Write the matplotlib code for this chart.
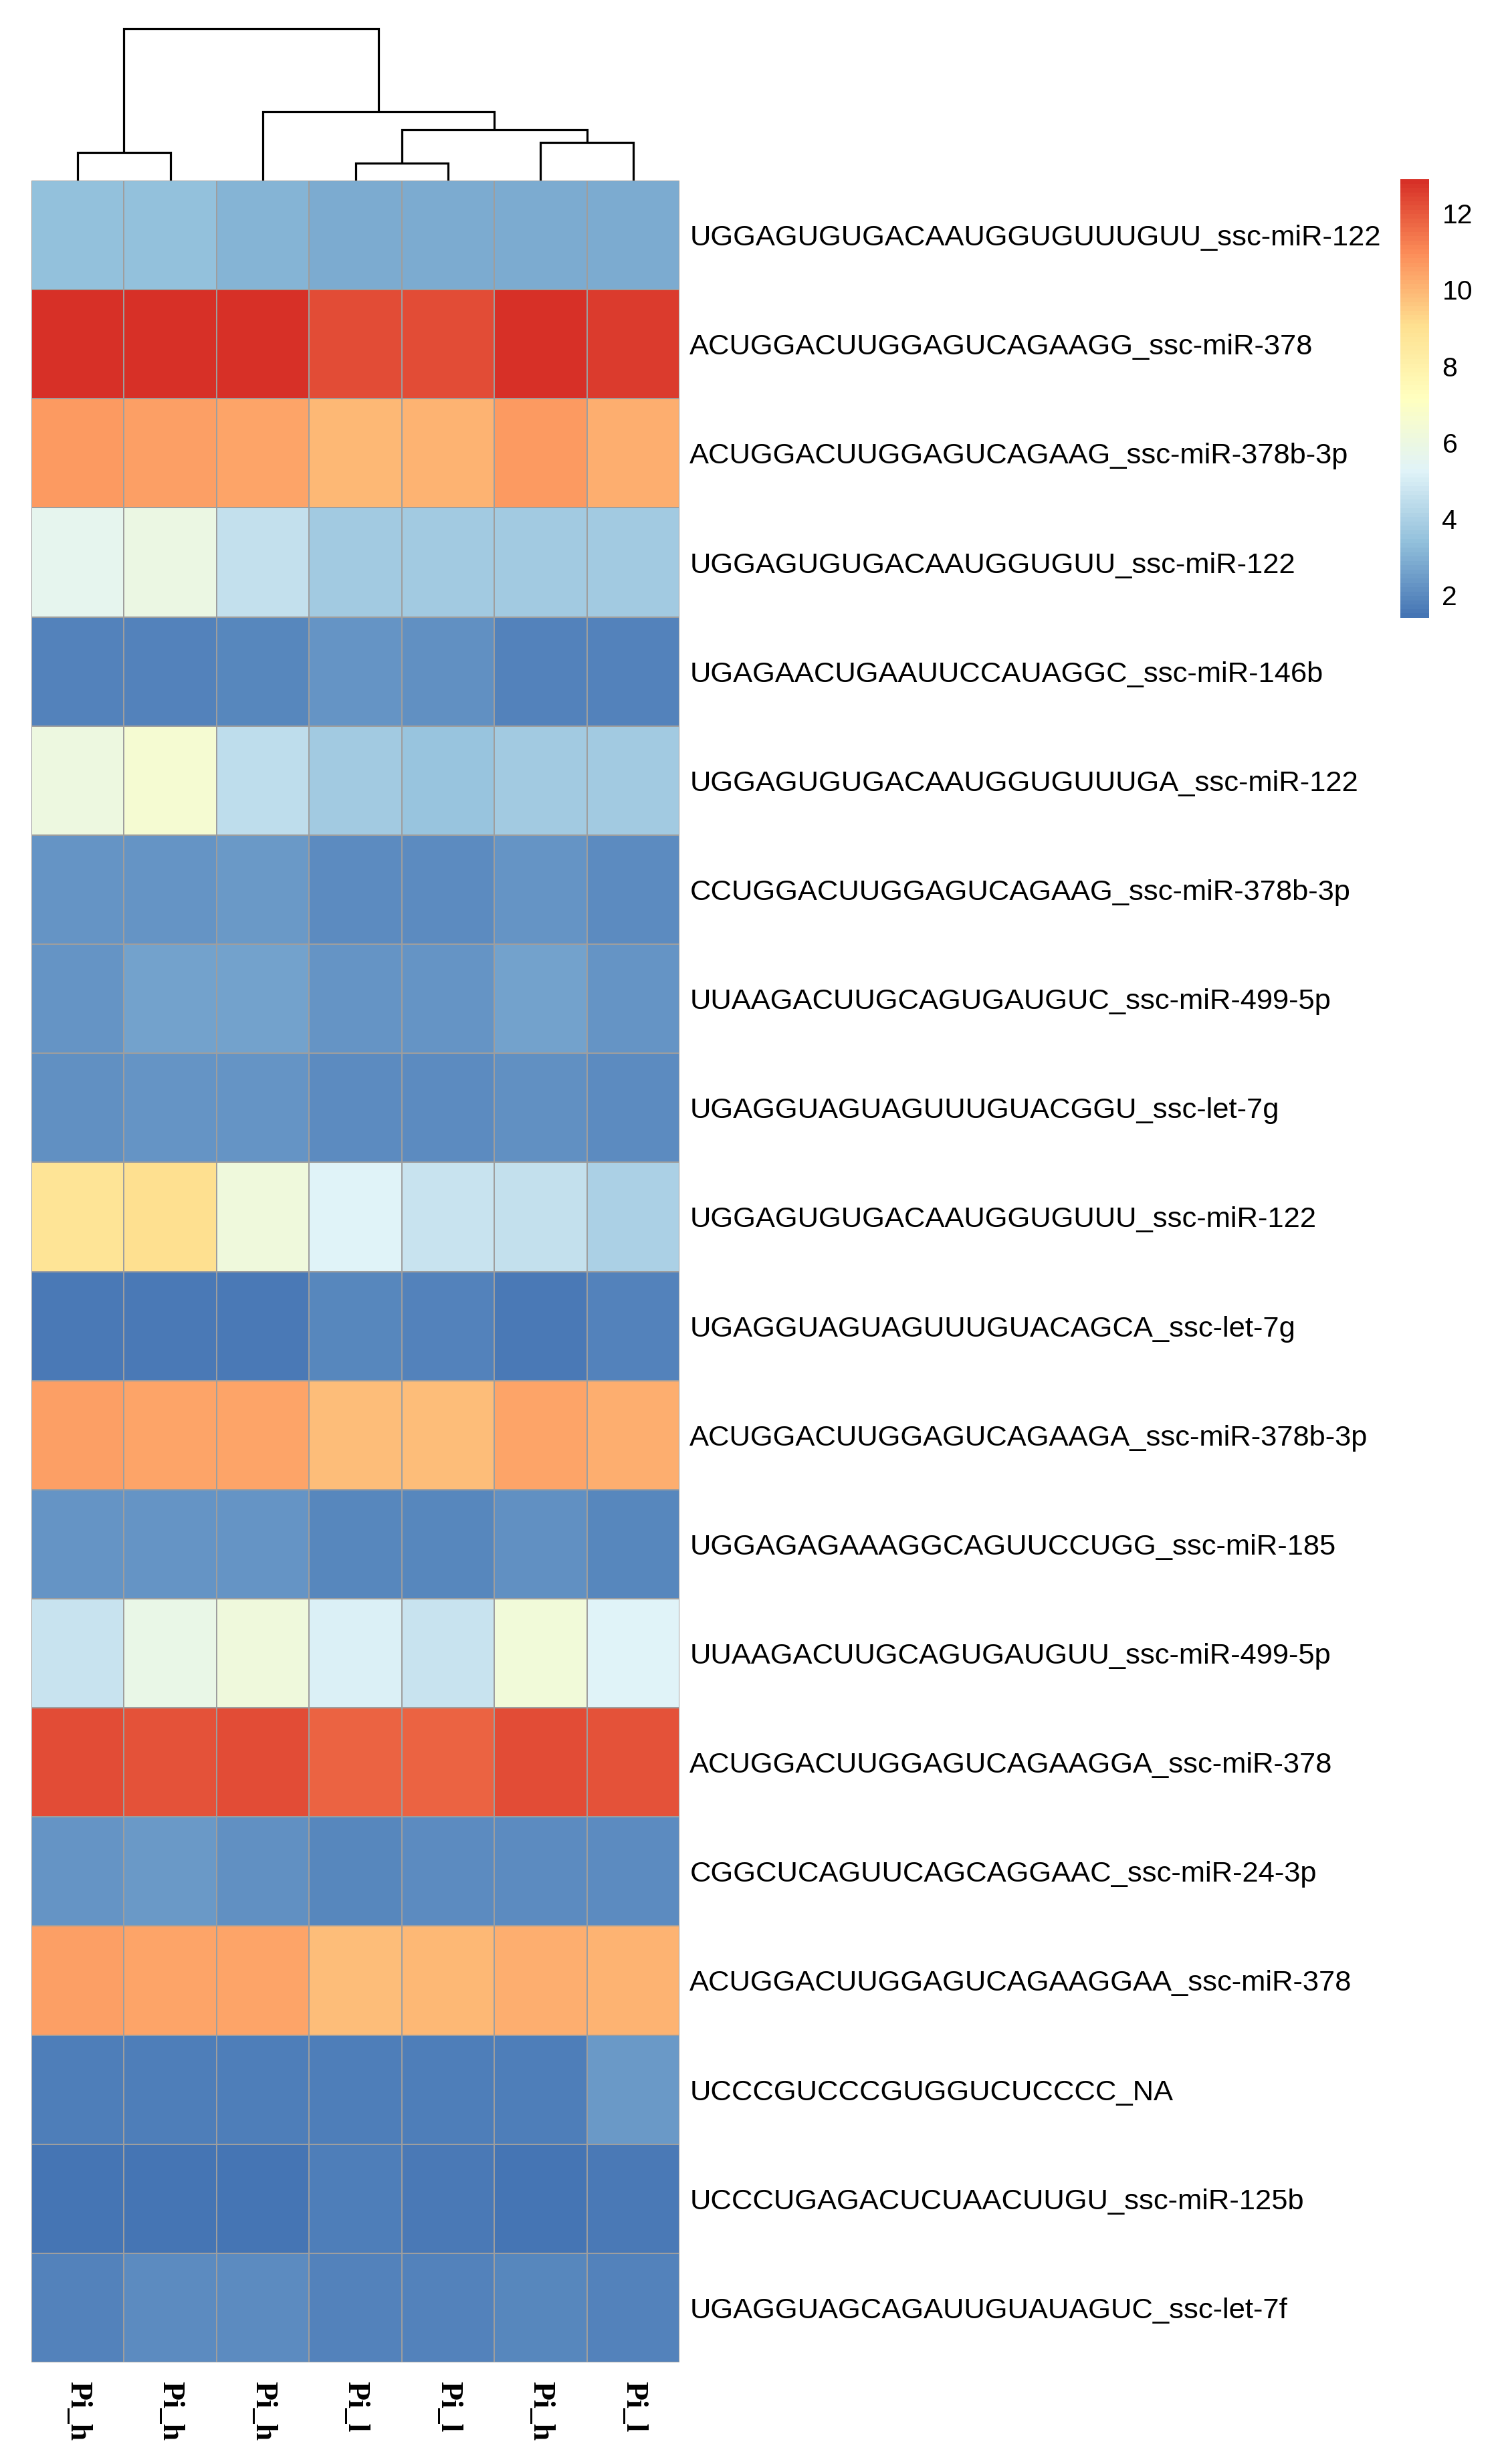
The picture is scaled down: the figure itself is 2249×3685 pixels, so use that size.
import numpy as np
import matplotlib
matplotlib.use("Agg")
import matplotlib.pyplot as plt
from matplotlib.colors import LinearSegmentedColormap, Normalize
from matplotlib.cm import ScalarMappable

# ---------------- data ----------------
row_labels = [
    "UGGAGUGUGACAAUGGUGUUUGUU_ssc-miR-122",
    "ACUGGACUUGGAGUCAGAAGG_ssc-miR-378",
    "ACUGGACUUGGAGUCAGAAG_ssc-miR-378b-3p",
    "UGGAGUGUGACAAUGGUGUU_ssc-miR-122",
    "UGAGAACUGAAUUCCAUAGGC_ssc-miR-146b",
    "UGGAGUGUGACAAUGGUGUUUGA_ssc-miR-122",
    "CCUGGACUUGGAGUCAGAAG_ssc-miR-378b-3p",
    "UUAAGACUUGCAGUGAUGUC_ssc-miR-499-5p",
    "UGAGGUAGUAGUUUGUACGGU_ssc-let-7g",
    "UGGAGUGUGACAAUGGUGUUU_ssc-miR-122",
    "UGAGGUAGUAGUUUGUACAGCA_ssc-let-7g",
    "ACUGGACUUGGAGUCAGAAGA_ssc-miR-378b-3p",
    "UGGAGAGAAAGGCAGUUCCUGG_ssc-miR-185",
    "UUAAGACUUGCAGUGAUGUU_ssc-miR-499-5p",
    "ACUGGACUUGGAGUCAGAAGGA_ssc-miR-378",
    "CGGCUCAGUUCAGCAGGAAC_ssc-miR-24-3p",
    "ACUGGACUUGGAGUCAGAAGGAA_ssc-miR-378",
    "UCCCGUCCCGUGGUCUCCCC_NA",
    "UCCCUGAGACUCUAACUUGU_ssc-miR-125b",
    "UGAGGUAGCAGAUUGUAUAGUC_ssc-let-7f",
]

col_labels = ["Pi_h", "Pi_h", "Pi_h", "Pi_l", "Pi_l", "Pi_h", "Pi_l"]

values = [
    [3.40, 3.40, 3.10, 2.85, 2.85, 2.85, 2.85],
    [12.80, 12.90, 12.80, 12.30, 12.30, 12.80, 12.60],
    [10.70, 10.50, 10.40, 10.00, 10.05, 10.60, 10.25],
    [5.65, 5.90, 4.60, 3.75, 3.75, 3.70, 3.70],
    [1.75, 1.75, 1.90, 2.30, 2.10, 1.80, 1.75],
    [6.10, 6.50, 4.45, 3.70, 3.50, 3.70, 3.70],
    [2.25, 2.30, 2.35, 2.05, 2.05, 2.30, 2.05],
    [2.25, 2.55, 2.55, 2.25, 2.30, 2.55, 2.30],
    [2.20, 2.30, 2.30, 2.00, 2.00, 2.20, 2.00],
    [8.85, 9.10, 6.15, 5.25, 4.70, 4.60, 3.95],
    [1.60, 1.60, 1.60, 1.90, 1.80, 1.60, 1.75],
    [10.50, 10.40, 10.40, 9.90, 9.90, 10.40, 10.20],
    [2.25, 2.25, 2.25, 1.90, 1.90, 2.15, 1.90],
    [4.65, 5.80, 6.15, 5.10, 4.65, 6.30, 5.20],
    [12.25, 12.20, 12.30, 11.75, 11.80, 12.30, 12.10],
    [2.30, 2.40, 2.20, 1.95, 2.05, 2.00, 2.00],
    [10.50, 10.40, 10.40, 9.90, 9.95, 10.25, 10.10],
    [1.65, 1.65, 1.65, 1.65, 1.65, 1.65, 2.35],
    [1.45, 1.45, 1.40, 1.65, 1.60, 1.45, 1.60],
    [1.80, 2.00, 2.00, 1.80, 1.80, 1.90, 1.80],
]

# column dendrogram: (left child, right child, height); negative = leaf index (1-based)
dend_merges = [
    (-1, -2, 0.42),
    (-4, -5, 0.26),
    (-6, -7, 0.57),
    (2, 3, 0.76),
    (-3, 4, 1.03),
    (1, 5, 2.27),
]

cbar_ticks = [2, 4, 6, 8, 10, 12]

# ---------------- style ----------------
W, H = 2249, 3685
fig = plt.figure(figsize=(W / 100, H / 100), dpi=100)
fig.patch.set_facecolor("white")

pal = ["#4575B4", "#91BFDB", "#E0F3F8", "#FFFFBF", "#FEE090", "#FC8D59", "#D73027"]
cmap = LinearSegmentedColormap.from_list("rdylbu_r", pal, N=100)

data = np.array(values)
vmin, vmax = data.min(), data.max()
norm = Normalize(vmin=vmin, vmax=vmax)

sans = ["Liberation Sans", "DejaVu Sans"]
serif = ["Liberation Serif", "DejaVu Serif"]

# heatmap
hm_left, hm_right, hm_top, hm_bot = 47, 1016, 270, 3533
ax = fig.add_axes([hm_left / W, 1 - hm_bot / H, (hm_right - hm_left) / W, (hm_bot - hm_top) / H])
nr, nc = data.shape
ax.pcolormesh(np.arange(nc + 1), np.arange(nr + 1), data, cmap=cmap, norm=norm,
              edgecolors="#9E9E9E", linewidth=1.2)
ax.set_xlim(0, nc)
ax.set_ylim(nr, 0)
for s in ax.spines.values():
    s.set_visible(False)
ax.yaxis.tick_right()
ax.set_yticks(np.arange(nr) + 0.5)
ax.set_yticklabels(row_labels, fontsize=31.3, family=sans)
ax.tick_params(axis="y", length=0, pad=11)
ax.set_xticks(np.arange(nc) + 0.5)
ax.set_xticklabels(col_labels, rotation=270, fontsize=33, family=serif, fontweight="bold")
ax.tick_params(axis="x", length=0, pad=20)

# dendrogram
dend_top = 40
axd = fig.add_axes([hm_left / W, 1 - hm_top / H, (hm_right - hm_left) / W, (hm_top - dend_top) / H])
pos = {}
hts = {}
def node_xy(n):
    if n < 0:
        return -n - 0.5, 0.0
    return pos[n], hts[n]
for i, (a, b, h) in enumerate(dend_merges, start=1):
    xa, ya = node_xy(a)
    xb, yb = node_xy(b)
    axd.plot([xa, xa, xb, xb], [ya, h, h, yb], color="black", lw=2.3,
             solid_capstyle="butt", solid_joinstyle="miter")
    pos[i] = (xa + xb) / 2
    hts[i] = h
axd.set_xlim(0, nc)
axd.set_ylim(0, 2.30)
axd.axis("off")

# colorbar
cb_left, cb_right, cb_top, cb_bot = 2094, 2137, 268, 924
cax = fig.add_axes([cb_left / W, 1 - cb_bot / H, (cb_right - cb_left) / W, (cb_bot - cb_top) / H])
cb = fig.colorbar(ScalarMappable(norm=norm, cmap=cmap), cax=cax, ticks=cbar_ticks)
cb.outline.set_visible(False)
cax.tick_params(length=0, pad=14, labelsize=29.5)
for t in cax.get_yticklabels():
    t.set_family(sans)

fig.savefig("out.png", dpi=100, facecolor="white")
